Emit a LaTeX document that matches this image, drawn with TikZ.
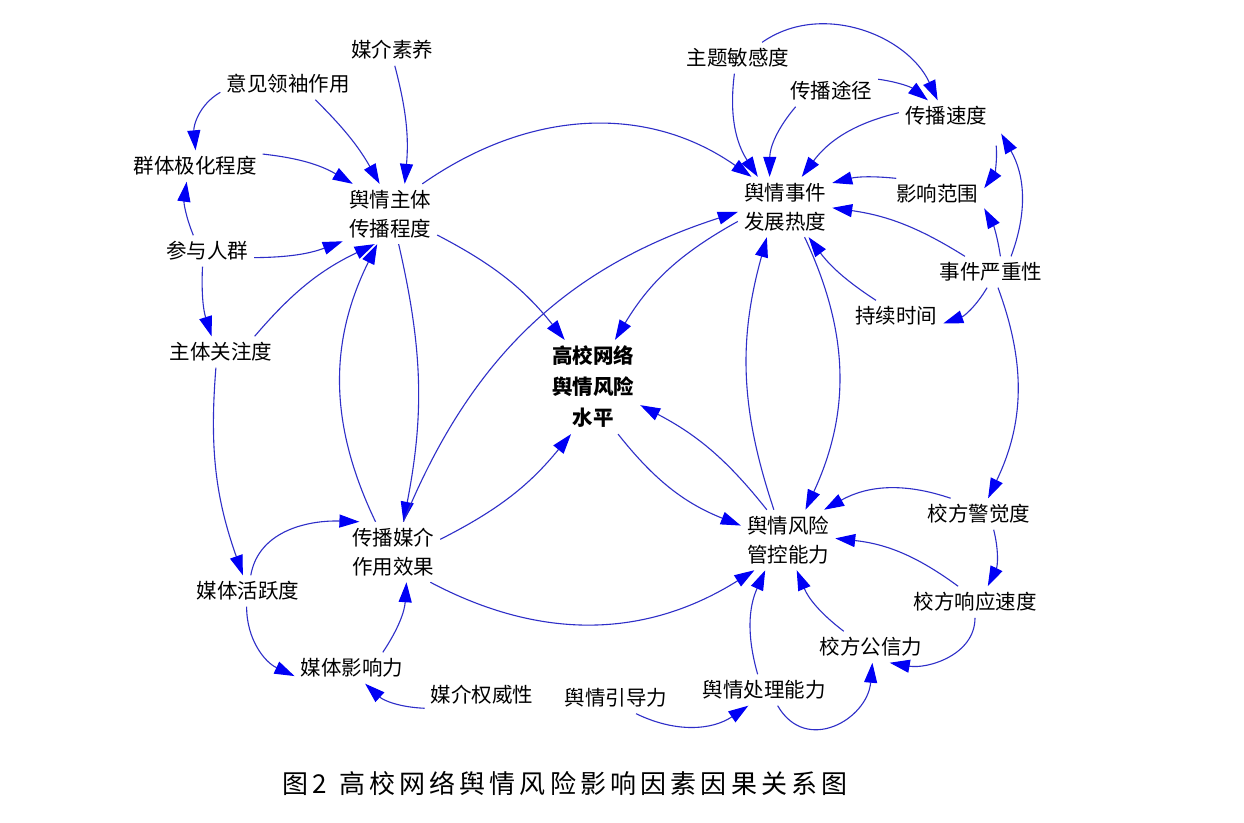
\documentclass[tikz,border=0pt]{standalone}
\usepackage{fontspec}
\setmainfont{Noto Sans CJK SC}
\newfontfamily\captionfont{Noto Sans CJK SC}[LetterSpace=16]
\usetikzlibrary{arrows.meta}
\definecolor{linkblue}{HTML}{2E2EC8}
\definecolor{tipblue}{HTML}{0000F5}

\begin{document}
\begin{tikzpicture}[x=1pt, y=1pt,
  factor/.style={inner sep=6pt, align=center, font=\fontsize{20.5}{29}\selectfont},
  link/.style={draw=linkblue, line width=1.1pt, -{Triangle[length=20pt, width=13pt, color=tipblue]}}]
\path[use as bounding box, fill=white] (0,0) rectangle (1244,-822);

% Factors
\node[factor] (literacy) at (392,-50) {媒介素养};
\node[factor] (leader) at (288,-84) {意见领袖作用};
\node[factor] (polar) at (195,-166) {群体极化程度};
\node[factor] (subject) at (390,-214) {舆情主体\\传播程度};
\node[factor] (crowd) at (207,-251) {参与人群};
\node[factor] (attention) at (221,-352) {主体关注度};
\node[factor] (activity) at (248,-591) {媒体活跃度};
\node[factor] (medium) at (393,-552) {传播媒介\\作用效果};
\node[factor] (influence) at (352,-668) {媒体影响力};
\node[factor] (authority) at (482,-695) {媒介权威性};
\node[factor, font=\fontsize{20.5}{31}\selectfont\bfseries] (risk) at (593,-387) {高校网络\\舆情风险\\水平};
\node[factor] (theme) at (738,-58) {主题敏感度};
\node[factor] (channel) at (831,-91) {传播途径};
\node[factor] (speed) at (946,-116) {传播速度};
\node[factor] (heat) at (785,-207) {舆情事件\\发展热度};
\node[factor] (scope) at (937,-194) {影响范围};
\node[factor] (severity) at (991,-272) {事件严重性};
\node[factor] (duration) at (896,-316) {持续时间};
\node[factor] (alert) at (979,-514) {校方警觉度};
\node[factor] (response) at (975,-602) {校方响应速度};
\node[factor] (credibility) at (871,-647) {校方公信力};
\node[factor] (handling) at (764,-690) {舆情处理能力};
\node[factor] (guidance) at (616,-698) {舆情引导力};
\node[factor] (control) at (788,-540) {舆情风险\\管控能力};

\node[font=\captionfont\fontsize{26}{26}\selectfont] (caption) at (565,-783) {图2\hspace{12pt}高校网络舆情风险影响因素因果关系图};

% Subject side
\draw[link] (leader.187) to[out=210, in=95] (polar.88);
\draw[link] (leader.330) to[bend left=8] (subject.109);
\draw[link] (literacy.280) to[bend left=10] (subject.64);
\draw[link] (polar.10) to[bend left=12] (subject.141);
\draw[link] (crowd.131) to[bend left=15] (polar.242);
\draw[link] (crowd.-8) to[bend right=10] (subject.210);
\draw[link] (crowd.254) to[bend right=10] (attention.121);
\draw[link] (attention.25) to[bend left=12] (subject.243);
\draw[link] (attention.252) to[bend right=12] (activity.108);

% Media side
\draw[link] (activity.80) to[out=80, in=178] (medium.138);
\draw[link] (activity.265) to[out=270, in=155] (influence.188);
\draw[link] (influence.27) to[bend right=15] (medium.294);
\draw[link] (authority.193) to[bend left=20] (influence.310);
\draw[link] (medium.120) to[bend left=26] (subject.247);
\draw[link] (subject.286) to[bend left=12] (medium.71);
\draw[link] (medium.71) to[bend left=25] (heat.186);
\draw[link] (medium.321) to[bend right=30] (control.222);

% Risk level
\draw[link] (medium.15) to[bend right=12] (risk.245);
\draw[link] (subject.336) to[bend left=12] (risk.121);
\draw[link] (heat.197) to[bend right=15] (risk.65);
\draw[link] (risk.298) to[bend right=15] (control.163);
\draw[link] (control.125) to[bend right=12] (risk.339);

% Event side
\draw[link] (subject.43) to[out=35, in=145] (heat.138);
\draw[link] (theme.257) to[bend right=20] (heat.132);
\draw[link] (channel.204) to[bend right=20] (heat.117);
\draw[link] (theme.33) to[out=35, in=115] (speed.118);
\draw[link] (channel.14) to[bend left=15] (speed.139);
\draw[link] (speed.176) to[bend right=20] (heat.61);
\draw[link] (scope.159) to[bend right=10] (heat.27);
\draw[link] ([xshift=3pt, yshift=-14pt]speed.south east) to[bend left=20] (scope.7);
\draw[link] (severity.38) to[bend right=25] ([xshift=8pt, yshift=-2pt]speed.south east);
\draw[link] (severity.59) to[bend right=10] (scope.343);
\draw[link] (severity.149) to[bend right=12] (heat.359);
\draw[link] (severity.256) to[bend left=20] (duration.351);
\draw[link] (duration.142) to[bend left=10] (heat.308);
\draw[link] (control.115) to[bend left=17] (heat.239);
\draw[link] (heat.303) to[bend left=25] (control.60);

% School side
\draw[link] (severity.294) to[bend left=23] (alert.60);
\draw[link] (alert.151) to[bend right=24] (control.40);
\draw[link] (alert.313) to[bend left=20] (response.51);
\draw[link] (response.137) to[bend right=15] (control.2);
\draw[link] (response.270) to[out=270, in=350] (credibility.320);
\draw[link] (credibility.150) to[bend left=15] (control.286);
\draw[link] (handling.112) to[bend left=20] (control.233);
\draw[link] (handling.311) to[out=300, in=265, looseness=1.4] (credibility.275);
\draw[link] (guidance.322) to[bend right=30] (handling.225);
\end{tikzpicture}
\end{document}
